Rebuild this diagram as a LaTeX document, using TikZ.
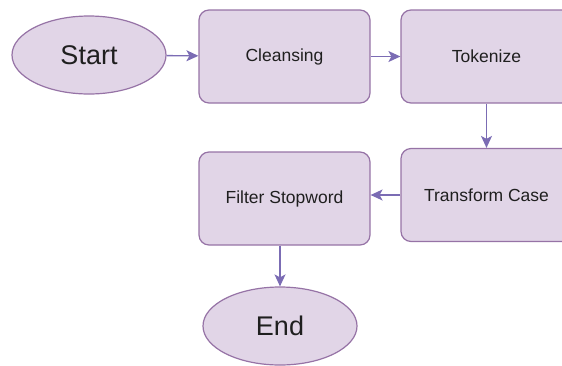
\documentclass[tikz,border=0pt]{standalone}
\usepackage{fontspec}
\setmainfont{Liberation Sans}
\usetikzlibrary{shapes.geometric,arrows.meta}
\definecolor{boxfill}{HTML}{E1D5E7}
\definecolor{boxline}{HTML}{9673A6}
\definecolor{flowline}{HTML}{7B6CB4}

\begin{document}
\begin{tikzpicture}[x=1pt,y=-1pt,
 terminal/.style={ellipse, draw=boxline, fill=boxfill, line width=1.2pt,
   minimum width=154pt, minimum height=78pt, text=black!88,
   font=\fontsize{27}{30}\selectfont},
 process/.style={rectangle, rounded corners=10pt, draw=boxline, fill=boxfill,
   line width=1.2pt, minimum width=171pt, minimum height=93pt, text=black!88,
   font=\fontsize{17.5}{20}\selectfont},
 flow/.style={draw=flowline, line width=1.3pt,
   -{Stealth[length=12pt,width=11pt,inset=3pt]}}]
 \clip (0,0) rectangle (562,365);

 % top row
 \node[terminal] (start) at (89,55){Start};
 \node[process] (clean) at (284.5,56.5){Cleansing};
 \node[process] (token) at (486.5,56.5){Tokenize};

 % second row
 \node[process] (trans) at (486.5,195){Transform Case};
 \node[process] (filter) at (284.5,198.5){Filter Stopword};

 % end
 \node[terminal] (finish) at (280,326){End};

 \draw[flow] (start) -- (clean);
 \draw[flow] (clean) -- (token);
 \draw[flow] (token) -- (trans);
 \draw[flow] (trans) -- (trans.west -| filter.east);
 \draw[flow] (filter.south -| finish.north) -- (finish.north);
\end{tikzpicture}
\end{document}
